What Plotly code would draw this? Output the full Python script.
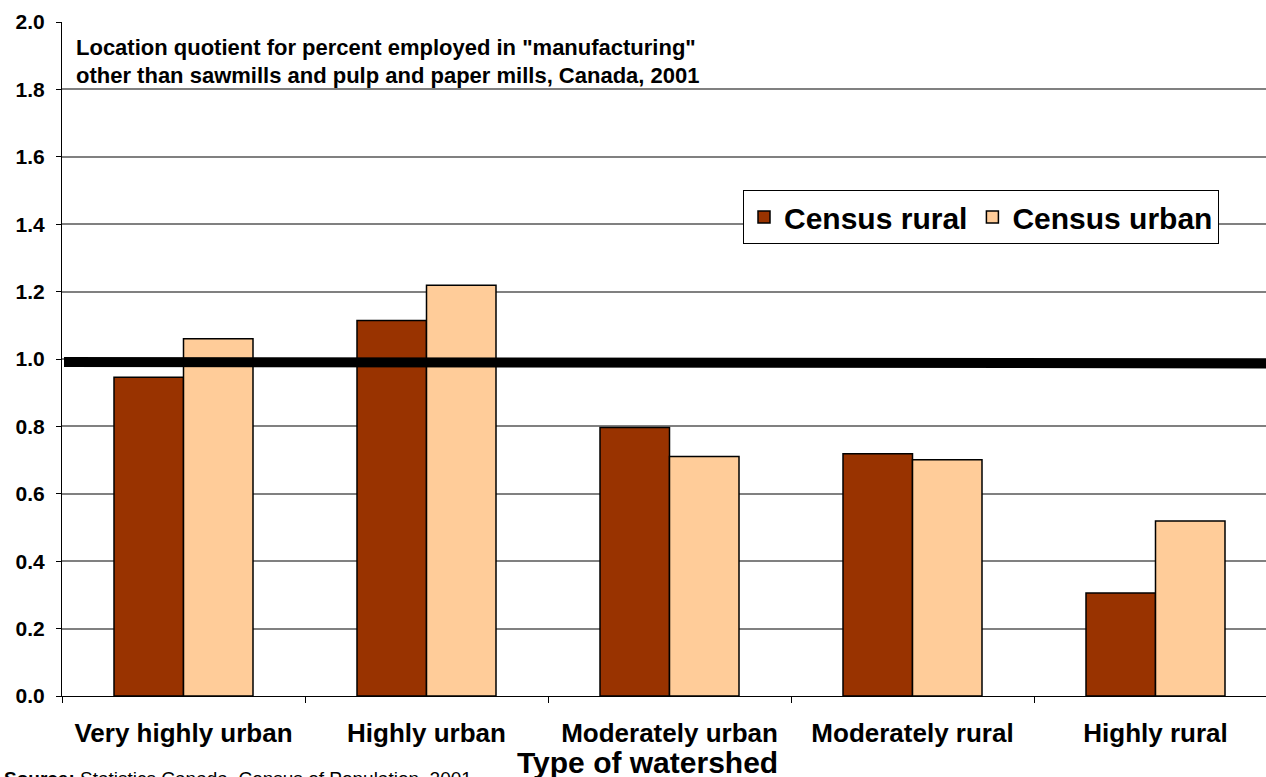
import plotly.graph_objects as go

categories = ["Very highly urban", "Highly urban", "Moderately urban", "Moderately rural", "Highly rural"]
census_rural = [0.946, 1.114, 0.797, 0.719, 0.306]
census_urban = [1.060, 1.219, 0.711, 0.701, 0.519]
reference_level = [0.991, 0.987]
y_ticks = [0.0, 0.2, 0.4, 0.6, 0.8, 1.0, 1.2, 1.4, 1.6, 1.8, 2.0]
title_lines = ['Location quotient for percent employed in "manufacturing"',
               'other than sawmills and pulp and paper mills, Canada, 2001']

FONT = "Arial, Liberation Sans, sans-serif"

fig = go.Figure()
fig.add_trace(go.Bar(name="Census rural", x=categories, y=census_rural,
                     marker=dict(color="#993300", line=dict(color="black", width=1.5))))
fig.add_trace(go.Bar(name="Census urban", x=categories, y=census_urban,
                     marker=dict(color="#FFCC99", line=dict(color="black", width=1.5))))

W, H = 1266, 777
L, R, T, B = 62, 0, 22, 81
pw = W - L - R
ph = H - T - B

def px_x(x):
    return (x - L) / pw

def px_y(y):
    return (H - B - y) / ph

# thick reference line
fig.add_shape(type="line", xref="paper", yref="y", x0=px_x(64), x1=1.0,
              y0=reference_level[0], y1=reference_level[1],
              line=dict(color="black", width=10), layer="above")

for i, line in enumerate(title_lines):
    fig.add_annotation(text="<b>%s</b>" % line, xref="paper", yref="paper",
                       x=px_x(74), y=px_y(47 + 28 * i), xanchor="left", yanchor="middle",
                       showarrow=False, font=dict(family=FONT, size=22, color="black"))

fig.add_annotation(text="<b>Type of watershed</b>", xref="paper", yref="paper",
                   x=px_x(647), y=px_y(762), xanchor="center", yanchor="middle",
                   showarrow=False, font=dict(family=FONT, size=30, color="black"))

fig.add_annotation(text="<b>Source:</b> Statistics Canada, Census of Population, 2001",
                   xref="paper", yref="paper", x=px_x(2), y=px_y(766),
                   xanchor="left", yanchor="top", showarrow=False,
                   font=dict(family=FONT, size=19, color="black"))

fig.update_layout(
    width=W, height=H,
    margin=dict(l=L, r=R, t=T, b=B),
    paper_bgcolor="white", plot_bgcolor="white",
    barmode="group", bargap=0.428, bargroupgap=0,
    font=dict(family=FONT, color="black"),
    showlegend=True,
    legend=dict(orientation="h", x=px_x(743), y=px_y(190), xanchor="left", yanchor="top",
                bgcolor="white", bordercolor="black", borderwidth=1,
                font=dict(family=FONT, size=30, color="black", weight="bold"),
                traceorder="normal"),
)

fig.update_xaxes(range=[-0.5, -0.5 + pw / 243.0], showline=True, linecolor="black", linewidth=1,
                 ticks="outside", ticklen=6, tickcolor="black", tickson="boundaries",
                 ticklabelstandoff=14,
                 tickfont=dict(family=FONT, size=26, color="black", weight="bold"),
                 showgrid=False, fixedrange=True)
fig.update_yaxes(range=[0, 2.0], tickvals=y_ticks, tickformat=".1f",
                 showline=True, linecolor="black", linewidth=1,
                 ticks="outside", ticklen=5, tickcolor="black", ticklabelstandoff=7,
                 showgrid=True, gridcolor="#808080", gridwidth=1.5,
                 tickfont=dict(family=FONT, size=21, color="black", weight="bold"),
                 zeroline=False)

fig.write_html("out.html", config={"displayModeBar": False},
               post_script="document.body.style.margin='0px';document.body.style.overflow='hidden';")
